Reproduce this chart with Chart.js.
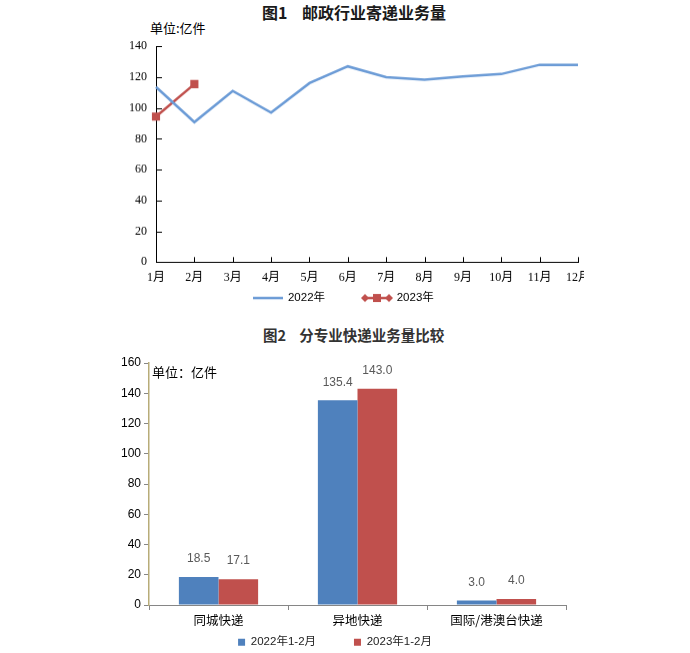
<!DOCTYPE html>
<html>
<head>
<meta charset="utf-8">
<script src="https://cdn.jsdelivr.net/npm/chart.js@4.4.0/dist/chart.umd.min.js"></script>
<style>
  html, body { margin: 0; padding: 0; background: #fff; width: 690px; height: 653px; overflow: hidden; }
  .abs { position: absolute; white-space: pre; font-family: "Noto Sans CJK SC", sans-serif; color: #000; }
  #clip1 { position: absolute; left: 0; top: 0; width: 584px; height: 330px; overflow: hidden; }
  #wrap1 { position: absolute; left: 80px; top: 30px; width: 540px; height: 282.75px; }
  #wrap2 { position: absolute; left: 80px; top: 350px; width: 510px; height: 308px; }
</style>
</head>
<body>
<div class="abs" style="left:262px; top:0px; font-size:16px; font-weight:bold; color:#1a1a1a;">图1    邮政行业寄递业务量</div>
<div class="abs" style="left:150px; top:18px; font-size:13px;">单位:亿件</div>
<div id="clip1"><div id="wrap1"><canvas id="c1"></canvas></div></div>

<div class="abs" style="left:263px; top:324px; font-size:14.5px; font-weight:bold; color:#333;">图2    分专业快递业务量比较</div>
<div id="wrap2"><canvas id="c2"></canvas></div>
<div class="abs" style="left:152px; top:362px; font-size:13px;">单位：亿件</div>

<script>
// ---------- Data ----------
const months = ["1月","2月","3月","4月","5月","6月","7月","8月","9月","10月","11月","12月"];
const series2022Label = "2022年";
const series2023Label = "2023年";
const volume2022 = [113.6, 90.8, 111.0, 97.0, 116.1, 127.0, 120.0, 118.3, 120.4, 122.0, 128.0, 128.0];
const volume2023 = [94.4, 115.5];
const lineYTicks = [0, 20, 40, 60, 80, 100, 120, 140];

const categories = ["同城快递", "异地快递", "国际/港澳台快递"];
const barLabel2022 = "2022年1-2月";
const barLabel2023 = "2023年1-2月";
const bar2022 = [18.5, 135.4, 3.0];
const bar2023 = [17.1, 143.0, 4.0];
const barYTicks = [0, 20, 40, 60, 80, 100, 120, 140, 160];

// ---------- Styles ----------
const blueLine = "#6b9bd6";
const redLine = "#c0504d";
const blueBar = "#4f81bd";
const redBar = "#c0504d";
const serif = "'Liberation Serif', 'Noto Sans CJK SC', serif";
const sans = "'Liberation Sans', 'Noto Sans CJK SC', sans-serif";
const gap = "          "; // spacing between legend items

// legend swatches
function swatch2022() {
  const c = document.createElement('canvas'); c.width = 30; c.height = 10;
  const x = c.getContext('2d'); x.strokeStyle = blueLine; x.lineWidth = 2.5;
  x.beginPath(); x.moveTo(0, 5); x.lineTo(30, 5); x.stroke(); return c;
}
function swatch2023() {
  const c = document.createElement('canvas'); c.width = 32; c.height = 10;
  const x = c.getContext('2d'); x.strokeStyle = redLine; x.fillStyle = redLine; x.lineWidth = 2.5;
  x.beginPath(); x.moveTo(3, 5); x.lineTo(29, 5); x.stroke();
  x.fillRect(12, 1, 8, 8);
  function dia(cx) { x.beginPath(); x.moveTo(cx, 1); x.lineTo(cx + 4, 5); x.lineTo(cx, 9); x.lineTo(cx - 4, 5); x.closePath(); x.fill(); }
  dia(4); dia(28); return c;
}
const sw1 = swatch2022(), sw2 = swatch2023();

// inward tick marks for chart 1
const innerTicks = {
  id: 'innerTicks',
  afterDatasetsDraw(chart) {
    const {ctx, chartArea, scales} = chart;
    ctx.save(); ctx.strokeStyle = '#000'; ctx.lineWidth = 1;
    scales.x.ticks.forEach((t, i) => {
      const px = Math.round(scales.x.getPixelForTick(i)) + 0.5;
      ctx.beginPath(); ctx.moveTo(px, chartArea.bottom); ctx.lineTo(px, chartArea.bottom - 5); ctx.stroke();
    });
    scales.y.ticks.forEach((t, i) => {
      const py = Math.round(scales.y.getPixelForTick(i)) + 0.5;
      ctx.beginPath(); ctx.moveTo(chartArea.left, py); ctx.lineTo(chartArea.left + 6, py); ctx.stroke();
    });
    ctx.restore();
  }
};

new Chart(document.getElementById('c1'), {
  type: 'line',
  data: {
    labels: months,
    datasets: [
      { label: series2022Label, data: volume2022, borderColor: blueLine, backgroundColor: blueLine, borderWidth: 2.5, pointRadius: 0, tension: 0 },
      { label: series2023Label, data: volume2023, borderColor: redLine, backgroundColor: redLine, borderWidth: 2.5, pointRadius: 4, pointStyle: 'rect', tension: 0 }
    ]
  },
  options: {
    responsive: true, maintainAspectRatio: false, animation: false,
    layout: { padding: { left: 30, right: 42, top: 12, bottom: 0 } },
    plugins: {
      tooltip: { enabled: false },
      legend: {
        position: 'bottom',
        labels: {
          usePointStyle: true, pointStyleWidth: 28, boxHeight: 10, padding: 6,
          color: '#000', font: { family: sans, size: 11.5 },
          generateLabels(chart) {
            return [
              { text: series2022Label + gap, pointStyle: sw1, fillStyle: blueLine, strokeStyle: blueLine, lineWidth: 0, datasetIndex: 0, fontColor: '#000' },
              { text: series2023Label, pointStyle: sw2, fillStyle: redLine, strokeStyle: redLine, lineWidth: 0, datasetIndex: 1, fontColor: '#000' }
            ];
          }
        }
      }
    },
    scales: {
      x: {
        offset: false,
        grid: { display: false, drawTicks: false },
        border: { display: true, color: '#000', width: 1 },
        ticks: { color: '#000', font: { family: serif, size: 12 }, padding: 8, maxRotation: 0, autoSkip: false },
        afterFit(s) { s.height = 24; }
      },
      y: {
        min: 0, max: 140,
        afterBuildTicks(s) { s.ticks = lineYTicks.map(v => ({ value: v })); },
        grid: { display: false, drawTicks: false },
        border: { display: true, color: '#000', width: 1 },
        ticks: { color: '#000', font: { family: serif, size: 12 }, padding: 9 },
        afterFit(s) { s.width = 46; }
      }
    }
  },
  plugins: [innerTicks]
});

// bar value labels
const barValues = {
  id: 'barValues',
  afterDatasetsDraw(chart) {
    const {ctx} = chart;
    ctx.save();
    ctx.fillStyle = '#595959'; ctx.font = "12px " + sans; ctx.textAlign = 'center'; ctx.textBaseline = 'middle';
    chart.data.datasets.forEach((ds, di) => {
      chart.getDatasetMeta(di).data.forEach((el, i) => {
        ctx.fillText(ds.data[i].toFixed(1), el.x, el.y - 18);
      });
    });
    ctx.restore();
  }
};

new Chart(document.getElementById('c2'), {
  type: 'bar',
  data: {
    labels: categories,
    datasets: [
      { label: barLabel2022, data: bar2022, backgroundColor: blueBar, borderWidth: 0, categoryPercentage: 0.57, barPercentage: 1.0 },
      { label: barLabel2023, data: bar2023, backgroundColor: redBar, borderWidth: 0, categoryPercentage: 0.57, barPercentage: 1.0 }
    ]
  },
  options: {
    responsive: true, maintainAspectRatio: false, animation: false,
    layout: { padding: { left: 24, right: 24, top: 13, bottom: 0 } },
    plugins: {
      tooltip: { enabled: false },
      legend: {
        position: 'bottom',
        labels: {
          boxWidth: 7, boxHeight: 7, padding: 6, color: '#222', font: { family: sans, size: 11.5 },
          generateLabels(chart) {
            return chart.data.datasets.map((ds, i) => ({
              text: ds.label + (i === 0 ? gap : ''), fillStyle: ds.backgroundColor, strokeStyle: ds.backgroundColor,
              lineWidth: 0, datasetIndex: i, fontColor: '#222'
            }));
          }
        }
      }
    },
    scales: {
      x: {
        grid: { display: true, drawOnChartArea: false, drawTicks: true, tickLength: 5, color: '#868686', offset: true },
        border: { display: true, color: '#868686', width: 1 },
        ticks: { color: '#000', font: { family: "'Noto Sans CJK SC', sans-serif", size: 12.5 }, padding: 3, maxRotation: 0, autoSkip: false },
        afterFit(s) { s.height = 25.5; }
      },
      y: {
        min: 0, max: 160,
        afterBuildTicks(s) { s.ticks = barYTicks.map(v => ({ value: v })); },
        grid: { display: true, drawOnChartArea: false, drawTicks: true, tickLength: 5, color: '#868686' },
        border: { display: true, color: '#b8ac78', width: 1.5 },
        ticks: { color: '#000', font: { family: sans, size: 12 }, padding: 3 },
        afterFit(s) { s.width = 45; }
      }
    }
  },
  plugins: [barValues]
});
</script>
</body>
</html>
